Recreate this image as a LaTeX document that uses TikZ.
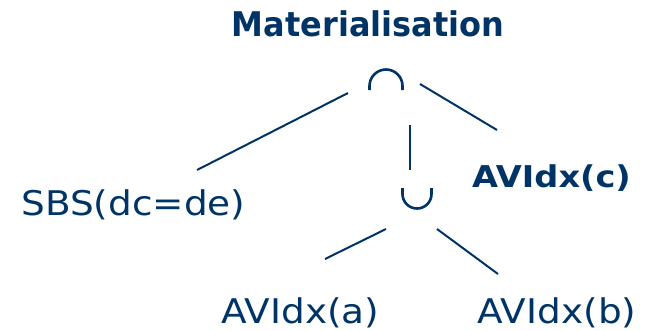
\documentclass[tikz,border=0pt]{standalone}
\usepackage{fontspec}
\setmainfont{DejaVu Sans}
\newfontfamily\regf[FakeStretch=1.1]{DejaVu Sans}
\newfontfamily\titlef[FakeStretch=0.94]{DejaVu Sans}
\newfontfamily\boldf[FakeStretch=1.12]{DejaVu Sans}
\definecolor{navy}{RGB}{0,51,102}
\begin{document}
\begin{tikzpicture}[x=1pt,y=-1pt,
  every node/.style={inner sep=0pt, text=navy},
  lab/.style={font=\regf\fontsize{34}{38}\selectfont, anchor=base},
  titlelab/.style={font=\titlef\bfseries\fontsize{34}{38}\selectfont, anchor=base},
  boldlab/.style={font=\boldf\bfseries\fontsize{30}{34}\selectfont, anchor=base},
  edge/.style={draw=navy, line width=2pt},
  opline/.style={draw=navy, line width=2.6pt}]
\useasboundingbox (0,0) rectangle (656,330);

% texts
\node[titlelab] (title) at (368,36) {Materialisation};
\node[lab] (sbs) at (133.5,215) {SBS(dc=de)};
\node[lab] (ava) at (300.5,323) {AVIdx(a)};
\node[lab] (avb) at (557,323) {AVIdx(b)};
\node[boldlab] (avc) at (551.5,187) {AVIdx(c)};

% operators
\coordinate (cap) at (386,80);
\coordinate (cup) at (417,199);
\draw[opline] (369.5,90) -- (369.5,86) arc[start angle=180, end angle=360, radius=16.5] -- (402.5,90);
\draw[opline] (402.5,188) -- (402.5,194) arc[start angle=180, end angle=0, radius=14.5] -- (431.5,188);

% connector ends
\coordinate (c1a) at (348,93);  \coordinate (c1b) at (197,170);
\coordinate (c2a) at (420,84);  \coordinate (c2b) at (497,130);
\coordinate (c3a) at (410,125); \coordinate (c3b) at (410,170);
\coordinate (c4a) at (386,229); \coordinate (c4b) at (325,259);
\coordinate (c5a) at (437,229); \coordinate (c5b) at (498,274);

\draw[edge] (c1a) -- (c1b);
\draw[edge] (c2a) -- (c2b);
\draw[edge] (c3a) -- (c3b);
\draw[edge] (c4a) -- (c4b);
\draw[edge] (c5a) -- (c5b);
\end{tikzpicture}
\end{document}
